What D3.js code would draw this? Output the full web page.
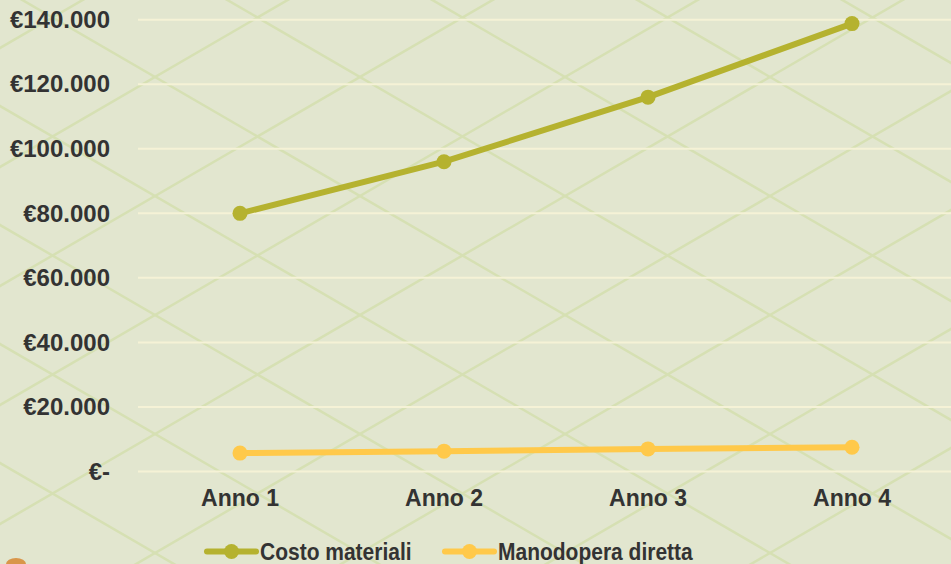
<!DOCTYPE html>
<html>
<head>
<meta charset="utf-8">
<script src="https://cdn.jsdelivr.net/npm/d3@7"></script>
<style>
  html, body { margin: 0; padding: 0; background: #e2e6cf; }
  svg { display: block; }
</style>
</head>
<body>
<div id="chart"></div>
<script>
// data
const years = ["Anno 1", "Anno 2", "Anno 3", "Anno 4"];
const costoMateriali = [80000, 96000, 116000, 138800];
const manodopera = [5700, 6300, 7000, 7500];
const yTicks = [0, 20000, 40000, 60000, 80000, 100000, 120000, 140000];
const seriesNames = ["Costo materiali", "Manodopera diretta"];
const seriesColors = ["#b5b22f", "#ffc94a"];

const width = 951, height = 564;
const margin = { left: 138, right: -3, top: 19.7, bottom: 92.5 };
const font = "'Liberation Sans', Arial, sans-serif";

const svg = d3.select("#chart").append("svg")
  .attr("width", width)
  .attr("height", height);

svg.append("rect")
  .attr("width", width).attr("height", height)
  .attr("fill", "#e2e6cf");

// diamond lattice in the background
const period = 205, slope = 119 / 205;
const ox = 360, oy = 196;
const bg = svg.append("g").attr("stroke", "#d6e0b3").attr("stroke-width", 2.5);
for (let k = -12; k <= 12; k++) {
  const x0 = ox + k * period;
  bg.append("line")
    .attr("x1", x0 - 1200).attr("y1", oy - 1200 * slope)
    .attr("x2", x0 + 1200).attr("y2", oy + 1200 * slope);
  bg.append("line")
    .attr("x1", x0 - 1200).attr("y1", oy + 1200 * slope)
    .attr("x2", x0 + 1200).attr("y2", oy - 1200 * slope);
}

const x = d3.scaleBand()
  .domain(years)
  .range([margin.left, width - margin.right])
  .paddingInner(0).paddingOuter(0);

const y = d3.scaleLinear()
  .domain([0, 140000])
  .range([height - margin.bottom, margin.top]);

// gridlines
svg.append("g")
  .selectAll("line")
  .data(yTicks)
  .join("line")
  .attr("x1", margin.left)
  .attr("x2", width)
  .attr("y1", d => y(d))
  .attr("y2", d => y(d))
  .attr("stroke", "#f5f2d6")
  .attr("stroke-width", 2);

const fmt = v => v === 0 ? "€-" : "€" + d3.format(",")(v).replace(/,/g, ".");

// y axis labels
const yAxis = svg.append("g")
  .attr("transform", `translate(${margin.left},0)`)
  .call(d3.axisLeft(y).tickValues(yTicks).tickFormat(fmt).tickSize(0).tickPadding(28));
yAxis.select(".domain").remove();
yAxis.selectAll("text")
  .attr("font-family", font)
  .attr("font-weight", "bold")
  .attr("font-size", "24px")
  .attr("fill", "#333333");

// x axis labels
const xAxis = svg.append("g")
  .attr("transform", `translate(0,${y(0)})`)
  .call(d3.axisBottom(x).tickSize(0).tickPadding(18));
xAxis.select(".domain").remove();
xAxis.selectAll("text")
  .attr("font-family", font)
  .attr("font-weight", "bold")
  .attr("font-size", "23px")
  .attr("fill", "#333333");

// series
const series = [costoMateriali, manodopera];
const line = d3.line()
  .x((d, i) => x(years[i]) + x.bandwidth() / 2)
  .y(d => y(d));

series.forEach((vals, s) => {
  svg.append("path")
    .datum(vals)
    .attr("d", line)
    .attr("fill", "none")
    .attr("stroke", seriesColors[s])
    .attr("stroke-width", 6)
    .attr("stroke-linejoin", "round");
  svg.append("g")
    .selectAll("circle")
    .data(vals)
    .join("circle")
    .attr("cx", (d, i) => x(years[i]) + x.bandwidth() / 2)
    .attr("cy", d => y(d))
    .attr("r", 7.5)
    .attr("fill", seriesColors[s]);
});

// legend
const legendX = [207, 445];
const legendY = 551.5;
const legend = svg.append("g");
seriesNames.forEach((name, s) => {
  const g = legend.append("g").attr("transform", `translate(${legendX[s]},${legendY})`);
  g.append("line")
    .attr("x1", 0).attr("x2", 49)
    .attr("stroke", seriesColors[s])
    .attr("stroke-width", 6)
    .attr("stroke-linecap", "round");
  g.append("circle")
    .attr("cx", 24.5).attr("r", 7.5)
    .attr("fill", seriesColors[s]);
  // text is slightly taller than its width suggests in the reference
  g.append("text")
    .attr("transform", "translate(53,0) scale(1,1.12)")
    .attr("dy", "0.36em")
    .attr("font-family", font)
    .attr("font-weight", "bold")
    .attr("font-size", "21px")
    .attr("fill", "#333333")
    .text(name);
});

// little coin icon peeking in at the bottom left
svg.append("ellipse")
  .attr("cx", 16).attr("cy", 564)
  .attr("rx", 10).attr("ry", 6)
  .attr("fill", "#d9964a");
</script>
</body>
</html>
